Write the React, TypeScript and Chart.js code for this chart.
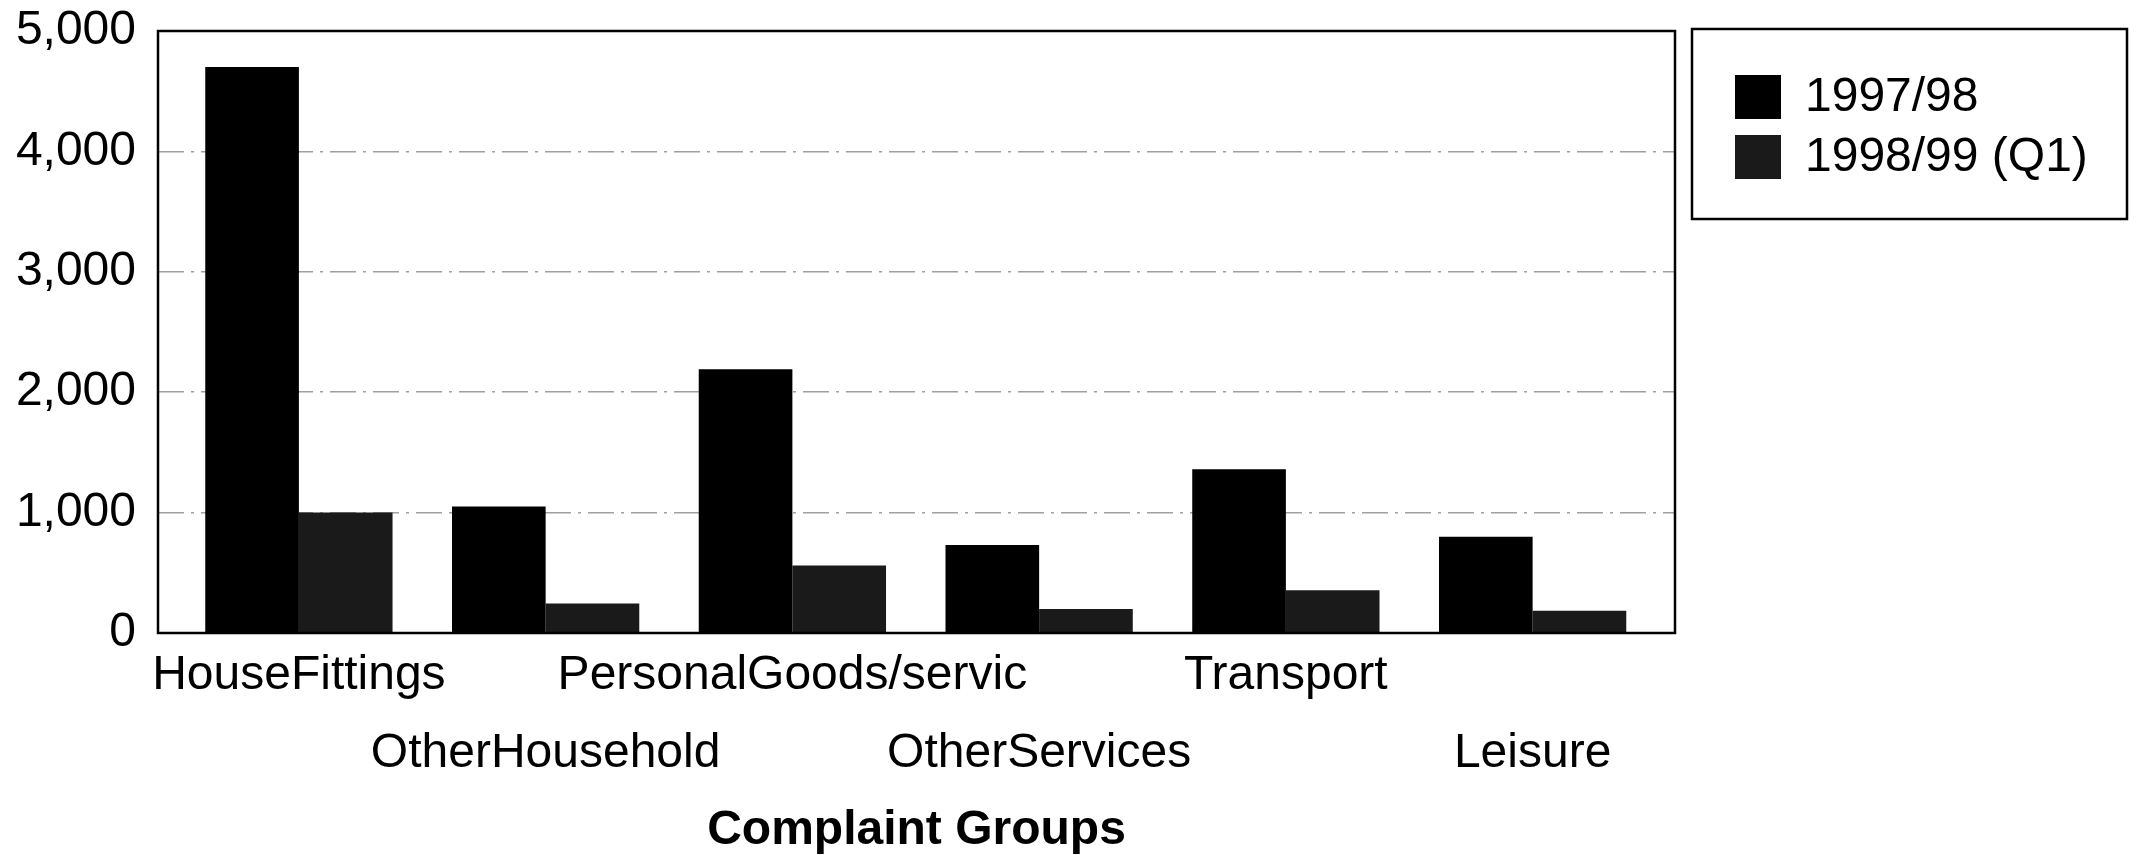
import React, { useEffect, useRef } from 'react';
import { Chart, registerables } from 'chart.js';

Chart.register(...registerables);

const categories = [
  'HouseFittings',
  'OtherHousehold',
  'PersonalGoods/servic',
  'OtherServices',
  'Transport',
  'Leisure',
];
const seriesLabels = ['1997/98', '1998/99 (Q1)'];
const values9798 = [4700, 1050, 2190, 730, 1360, 800];
const values9899Q1 = [1000, 245, 560, 200, 355, 185];
const yTicks = [0, 1000, 2000, 3000, 4000, 5000];
const xTitle = 'Complaint Groups';

const FONT = "'Liberation Sans', Arial, Helvetica, sans-serif";

const framePlugin = {
  id: 'frame',
  afterDatasetsDraw(chart: any) {
    const { ctx, chartArea: a } = chart;
    ctx.save();
    ctx.strokeStyle = '#000';
    ctx.lineWidth = 2.5;
    ctx.strokeRect(a.left, a.top, a.right - a.left, a.bottom - a.top);
    ctx.restore();
  },
};

const boxLegendPlugin = {
  id: 'boxLegend',
  afterDraw(chart: any) {
    const { ctx, chartArea: a } = chart;
    const left = a.right + 17;
    const top = a.top - 2;
    const right = chart.width - 17;
    const bottom = top + 190;
    ctx.save();
    ctx.lineWidth = 2.5;
    ctx.strokeStyle = '#000';
    ctx.strokeRect(left, top, right - left, bottom - top);
    ctx.font = `48px ${FONT}`;
    ctx.textBaseline = 'alphabetic';
    ctx.textAlign = 'left';
    chart.data.datasets.forEach((ds: any, i: number) => {
      const rowTop = top + 46 + i * 60;
      ctx.fillStyle = ds.backgroundColor;
      ctx.fillRect(left + 43, rowTop, 46, 44);
      ctx.fillStyle = '#000';
      ctx.fillText(ds.label, left + 113, rowTop + 36);
    });
    ctx.restore();
  },
};

export default function App() {
  const ref = useRef<HTMLCanvasElement>(null);

  useEffect(() => {
    document.body.style.margin = '0';
    document.body.style.overflow = 'hidden';
    const chart = new Chart(ref.current as HTMLCanvasElement, {
      type: 'bar',
      data: {
        datasets: [
          {
            label: seriesLabels[0],
            data: values9798.map((v, i) => ({ x: i, y: v })),
            backgroundColor: '#000000',
            borderWidth: 0,
            categoryPercentage: 0.759,
            barPercentage: 1,
          },
          {
            label: seriesLabels[1],
            data: values9899Q1.map((v, i) => ({ x: i, y: v })),
            backgroundColor: '#1a1a1a',
            borderWidth: 0,
            categoryPercentage: 0.759,
            barPercentage: 1,
          },
        ],
      } as any,
      options: {
        responsive: true,
        maintainAspectRatio: false,
        animation: false,
        layout: { padding: { left: 0, top: 31, right: 469, bottom: 0 } },
        plugins: {
          legend: { display: false },
          tooltip: { enabled: false },
        },
        scales: {
          x: {
            type: 'linear',
            min: -0.571,
            max: 5.577,
            offset: false,
            afterBuildTicks: (axis: any) => {
              axis.ticks = categories.map((_, i) => ({ value: i }));
            },
            afterFit: (s: any) => {
              s.height = 222;
            },
            grid: { display: false, offset: false },
            border: { display: false },
            ticks: {
              autoSkip: false,
              maxRotation: 0,
              minRotation: 0,
              padding: -4,
              color: '#000',
              font: { family: FONT, size: 48, lineHeight: 1.615 },
              callback: (v: any) => {
                const i = Math.round(Number(v));
                const n = categories[i];
                return i % 2 === 0 ? n : ['', n];
              },
            },
            title: {
              display: true,
              text: xTitle,
              color: '#000',
              font: { family: FONT, size: 48, weight: 'bold', lineHeight: 1.0 },
              padding: { top: 0, bottom: 0 },
            },
          },
          y: {
            min: 0,
            max: 5000,
            afterBuildTicks: (axis: any) => {
              axis.ticks = yTicks.map((v) => ({ value: v }));
            },
            afterFit: (s: any) => {
              s.width = 158;
            },
            grid: { color: '#a0a0a0', lineWidth: 1.5, drawTicks: false },
            border: { display: false, dash: [26, 7, 3, 7] },
            ticks: {
              padding: 22,
              color: '#000',
              font: { family: FONT, size: 48, lineHeight: 0.3 },
              callback: (v: any) => Number(v).toLocaleString('en-US'),
            },
          },
        },
      } as any,
      plugins: [framePlugin, boxLegendPlugin],
    });
    return () => chart.destroy();
  }, []);

  return (
    <div style={{ position: 'relative', width: 2144, height: 855 }}>
      <canvas ref={ref} />
    </div>
  );
}
